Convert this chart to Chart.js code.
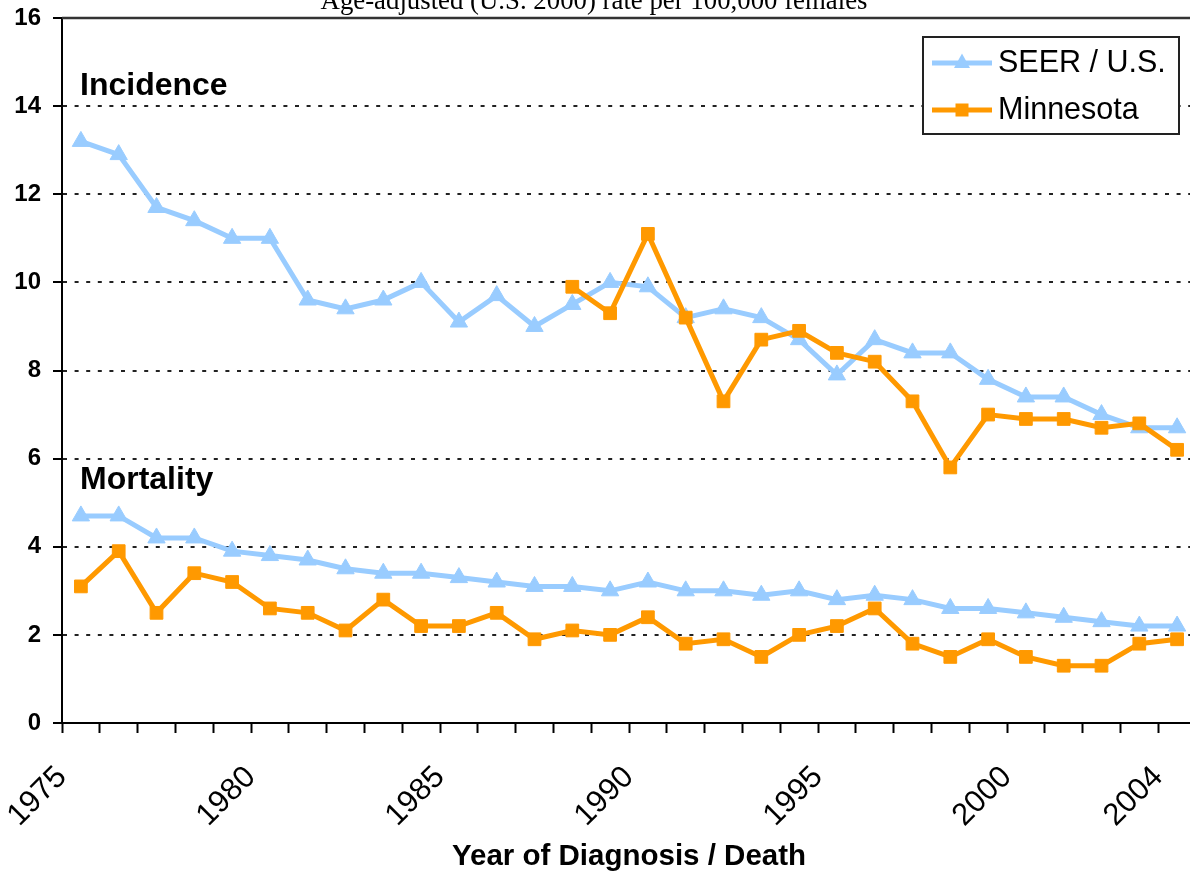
<!DOCTYPE html>
<html>
<head>
<meta charset="utf-8">
<script src="https://cdn.jsdelivr.net/npm/chart.js@4.4.0/dist/chart.umd.min.js"></script>
<style>
html,body{margin:0;padding:0;overflow:hidden;background:#fff;width:1190px;height:875px;}
#c{position:absolute;left:0;top:0;}
</style>
</head>
<body>
<canvas id="c" width="1207" height="875" style="width:1207px;height:875px;"></canvas>
<script>
// ---- data ----
const years = [1975,1976,1977,1978,1979,1980,1981,1982,1983,1984,1985,1986,1987,1988,1989,1990,1991,1992,1993,1994,1995,1996,1997,1998,1999,2000,2001,2002,2003,2004];
const shownYears = [1975,1980,1985,1990,1995,2000,2004];
const seerIncidence = [13.2,12.9,11.7,11.4,11.0,11.0,9.6,9.4,9.6,10.0, 9.1,9.7,9.0,9.5,10.0,9.9,9.2,9.4,9.2,8.7, 7.9,8.7,8.4,8.4,7.8,7.4,7.4,7.0,6.7,6.7];
const mnIncidence = [null,null,null,null,null,null,null,null,null,null,null,null,null, 9.9,9.3,11.1,9.2,7.3,8.7,8.9, 8.4,8.2,7.3,5.8,7.0,6.9,6.9,6.7,6.8,6.2];
const seerMortality = [4.7,4.7,4.2,4.2,3.9,3.8,3.7,3.5,3.4,3.4, 3.3,3.2,3.1,3.1,3.0,3.2,3.0,3.0,2.9,3.0, 2.8,2.9,2.8,2.6,2.6,2.5,2.4,2.3,2.2,2.2];
const mnMortality = [3.1,3.9,2.5,3.4,3.2,2.6,2.5,2.1,2.8,2.2, 2.2,2.5,1.9,2.1,2.0,2.4,1.8,1.9,1.5,2.0, 2.2,2.6,1.8,1.5,1.9,1.5,1.3,1.3,1.8,1.9];
const yMin = 0, yMax = 16, yStep = 2;
const seriesNames = ['SEER / U.S.', 'Minnesota'];
const titleText = 'Age-adjusted (U.S. 2000) rate per 100,000 females';
const xTitle = 'Year of Diagnosis / Death';
const groupLabels = [{text:'Incidence', value:14.25}, {text:'Mortality', value:5.3}];

const BLUE = '#99CCFF';
const ORANGE = '#FF9900';

function ds(label, data, color, style, radius, order) {
  return {
    label, data, order,
    borderColor: color, backgroundColor: color,
    borderWidth: 5, tension: 0,
    pointStyle: style, pointRadius: radius, pointHoverRadius: radius,
    pointBorderWidth: 1, pointBorderColor: color, pointBackgroundColor: color,
    spanGaps: false
  };
}

const decor = {
  id: 'decor',
  afterDraw(chart) {
    const {ctx, chartArea: a} = chart;
    const ys = chart.scales.y;
    ctx.save();
    // top border
    ctx.strokeStyle = '#333';
    ctx.lineWidth = 2.5;
    ctx.beginPath();
    ctx.moveTo(a.left, a.top);
    ctx.lineTo(a.right, a.top);
    ctx.stroke();
    // title (clipped at top like reference)
    ctx.fillStyle = '#000';
    ctx.font = '26.8px "Liberation Serif", "Times New Roman", serif';
    ctx.textAlign = 'center';
    ctx.textBaseline = 'alphabetic';
    ctx.fillText(titleText, 594, 9);
    // group labels
    ctx.font = 'bold 32px "Liberation Sans", Arial, sans-serif';
    ctx.textAlign = 'left';
    groupLabels.forEach(g => {
      ctx.fillText(g.text, 80, ys.getPixelForValue(g.value));
    });
    // legend
    const bx = 923, by = 37, bw = 256, bh = 97;
    ctx.fillStyle = '#fff';
    ctx.fillRect(bx, by, bw, bh);
    ctx.strokeStyle = '#222';
    ctx.lineWidth = 2;
    ctx.strokeRect(bx, by, bw, bh);
    const rows = [{y: 63, color: BLUE, style: 'triangle'}, {y: 110, color: ORANGE, style: 'rect'}];
    rows.forEach((r, i) => {
      ctx.strokeStyle = r.color;
      ctx.lineWidth = 5;
      ctx.beginPath();
      ctx.moveTo(932, r.y);
      ctx.lineTo(992, r.y);
      ctx.stroke();
      ctx.fillStyle = r.color;
      if (r.style === 'triangle') {
        ctx.beginPath();
        ctx.moveTo(962, r.y - 9.5);
        ctx.lineTo(962 + 8, r.y + 5);
        ctx.lineTo(962 - 8, r.y + 5);
        ctx.closePath();
        ctx.fill();
      } else {
        ctx.fillRect(962 - 6.5, r.y - 6.5, 13, 13);
      }
      ctx.fillStyle = '#000';
      ctx.font = '30.5px "Liberation Sans", Arial, sans-serif';
      ctx.textAlign = 'left';
      ctx.textBaseline = 'middle';
      ctx.fillText(seriesNames[i], 998, r.y + 1);
    });
    ctx.restore();
  }
};

new Chart(document.getElementById('c'), {
  type: 'line',
  data: {
    labels: years.map(String),
    datasets: [
      ds(seriesNames[0], seerIncidence, BLUE, 'triangle', 10, 2),
      ds(seriesNames[1], mnIncidence, ORANGE, 'rect', 9, 1),
      ds(seriesNames[0] + ' mortality', seerMortality, BLUE, 'triangle', 10, 2),
      ds(seriesNames[1] + ' mortality', mnMortality, ORANGE, 'rect', 9, 1)
    ]
  },
  plugins: [decor],
  options: {
    responsive: false,
    maintainAspectRatio: false,
    animation: false,
    devicePixelRatio: 1,
    layout: {padding: {top: 18, left: 0, right: 0, bottom: 0}},
    plugins: {legend: {display: false}, tooltip: {enabled: false}, title: {display: false}},
    scales: {
      x: {
        type: 'category',
        offset: true,
        grid: {display: true, drawOnChartArea: false, drawTicks: true, offset: true,
               tickLength: 10, tickColor: '#000', tickWidth: 2, color: '#000'},
        border: {display: true, color: '#000', width: 2},
        ticks: {
          autoSkip: false, minRotation: 45, maxRotation: 45, padding: 26, labelOffset: -19,
          color: '#000',
          font: {family: '"Liberation Sans", Arial, sans-serif', size: 31},
          callback: (v, i) => shownYears.includes(years[i]) ? String(years[i]) : ''
        },
        title: {display: true, text: xTitle, color: '#000',
                font: {family: '"Liberation Sans", Arial, sans-serif', size: 29.5, weight: 'bold'},
                padding: {top: 0, bottom: 0}},
        afterFit: (s) => { s.height = 152; s.paddingLeft = 0; s.paddingRight = 0; }
      },
      y: {
        min: yMin, max: yMax,
        grid: {
          display: true, drawOnChartArea: true, drawTicks: true, tickLength: 9,
          color: (c) => (c.tick && (c.tick.value === yMin || c.tick.value === yMax)) ? 'rgba(0,0,0,0)' : '#222',
          lineWidth: 2, tickColor: '#000', tickWidth: 2, tickBorderDash: []
        },
        border: {display: true, color: '#000', width: 2, dash: [4, 7.6]},
        ticks: {
          stepSize: yStep, padding: 12, color: '#000',
          font: {family: '"Liberation Sans", Arial, sans-serif', size: 24, weight: 'bold'}
        },
        afterFit: (s) => { s.width = 62; s.paddingTop = 0; s.paddingBottom = 0; }
      }
    }
  }
});
</script>
</body>
</html>
